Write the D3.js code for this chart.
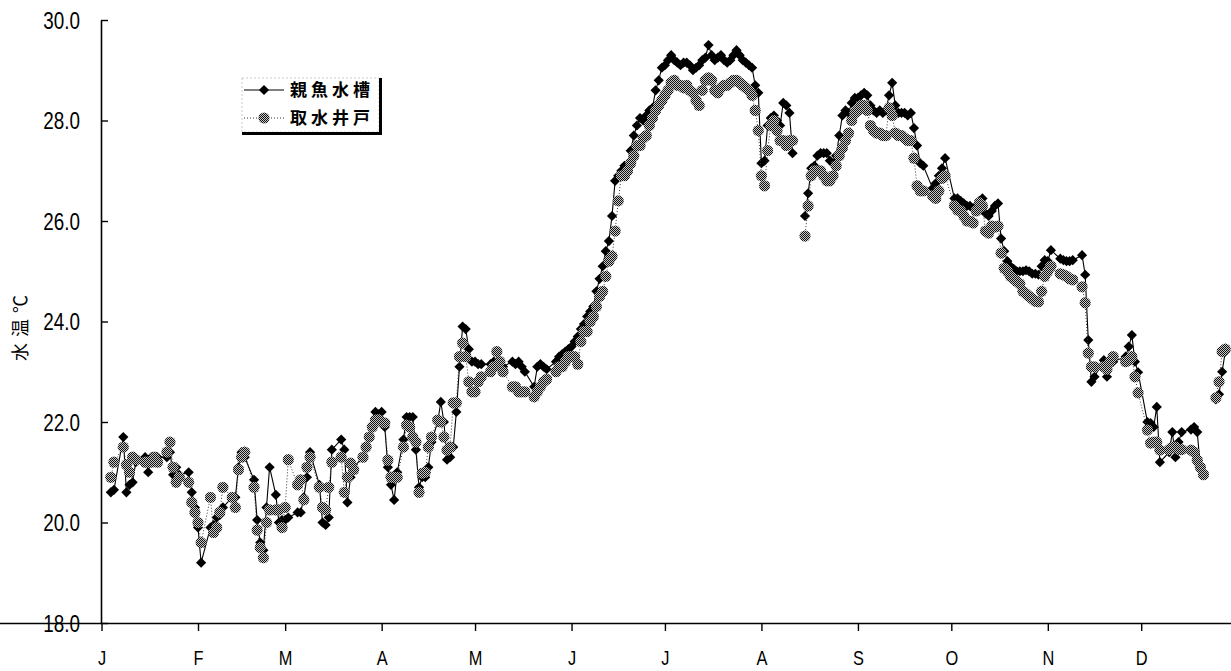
<!DOCTYPE html>
<html>
<head>
<meta charset="utf-8">
<script src="https://cdn.jsdelivr.net/npm/d3@7"></script>
<style>
  body { margin: 0; background: #fff; }
  .num { font-family: "Liberation Sans", Arial, sans-serif; }
  .jp { font-family: "Noto Sans CJK JP", sans-serif; }
</style>
</head>
<body>
<svg id="chart" width="1231" height="671"></svg>
<script>
// rows: [day of month, 親魚水槽, 取水井戸]  (null = no record, line breaks)
const jan = [[4,20.6,20.9],[5,20.65,21.2],[8,21.7,21.5],[9,20.6,21.15],[10,20.75,21.0],[11,20.8,21.3],[12,21.2,21.25],
  [15,21.3,21.2],[16,21.0,21.2],[17,21.3,21.2],[18,21.3,21.3],[19,21.3,21.2],
  [22,21.3,21.4],[23,21.4,21.6],[24,20.95,21.1],[25,21.1,20.8],[26,20.95,20.9],
  [29,21.0,20.8],[30,20.6,20.4],[31,20.3,20.2]];
const feb = [[1,19.9,20.0],[2,19.2,19.6],[5,19.9,20.5],[6,19.95,19.8],[7,20.1,19.9],[8,20.15,20.2],[9,20.3,20.7],
  [12,20.5,20.5],[13,20.5,20.3],[14,21.1,21.05],[15,21.4,21.3],[16,21.3,21.4],
  [19,20.85,20.7],[20,20.05,19.85],[21,19.6,19.5],[22,19.45,19.3],[23,20.3,20.0],
  [24,21.1,20.25],[26,20.55,20.25],[27,20.0,20.25],[28,20.05,19.9]];
const mar = [[1,20.05,20.3],[2,20.1,21.25],[5,20.2,20.75],[6,20.2,20.85],[7,20.5,20.45],[8,20.9,21.1],[9,21.4,21.3],
  [12,20.75,20.7],[13,20.0,20.3],[14,19.95,20.25],[15,20.1,20.7],[16,21.45,21.2],
  [19,21.65,21.3],[20,21.45,20.6],[21,20.4,20.9],[22,20.9,21.18],[23,21.1,21.05],
  [26,21.3,21.3],[27,21.5,21.5],[28,21.7,21.7],[29,21.9,21.9],[30,22.2,22.04],[31,22.15,22.05]];
const apr = [[1,22.2,22.0],[2,21.9,21.98],[3,21.1,21.24],[4,20.75,20.9],[5,20.45,20.9],[6,21.0,20.9],
  [8,21.65,21.5],[9,22.1,21.94],[10,22.1,21.9],[11,22.1,21.7],[12,21.45,21.6],[13,20.7,20.6],
  [14,20.9,20.98],[15,20.9,21.0],[16,21.1,21.5],[17,21.6,21.7],[19,22.0,22.04],[20,22.4,22.0],
  [21,22.0,21.7],[22,21.25,21.44],[23,21.3,21.5],[24,21.5,22.38],[25,22.2,22.38],[26,23.1,23.3],
  [27,23.9,23.57],[28,23.85,23.3],[29,23.45,22.8],[30,23.2,22.6]];
const may = [[1,23.2,22.6],[2,23.15,22.8],[3,23.15,22.9],[6,23.15,23.0],[7,23.2,23.1],[8,23.2,23.4],[9,23.15,23.2],[10,23.1,23.0],
  [13,23.2,22.7],[14,23.15,22.7],[15,23.2,22.6],[16,23.1,22.6],[17,23.0,22.6],
  [20,22.7,22.5],[21,23.1,22.6],[22,23.15,22.7],[23,23.1,22.8],[24,23.05,22.85],
  [27,23.2,23.0],[28,23.3,23.1],[29,23.35,23.1],[30,23.4,23.2],[31,23.45,23.3]];
const jun = [[1,23.5,23.3],[2,23.6,23.3],[3,23.7,23.15],[4,23.85,23.6],[5,23.95,23.8],[6,24.1,23.8],[7,24.2,24.0],
  [8,24.3,24.1],[9,24.6,24.3],[10,24.85,24.5],[11,25.1,24.6],[12,25.4,24.9],[13,25.6,25.2],[14,26.1,25.3],
  [15,26.8,25.8],[16,26.9,26.4],[17,27.0,26.9],[18,27.1,26.9],[19,27.1,27.0],[20,27.4,27.15],[21,27.7,27.3],
  [22,27.9,27.5],[23,28.05,27.5],[24,28.0,27.65],[25,28.1,27.7],[26,28.2,27.9],[27,28.25,28.05],[28,28.6,28.2],
  [29,28.8,28.3],[30,29.05,28.4]];
const jul = [[1,29.1,28.5],[2,29.2,28.6],[3,29.3,28.75],[4,29.2,28.8],[5,29.15,28.7],[6,29.1,28.7],[7,29.15,28.65],
  [8,29.15,28.7],[9,29.1,28.6],[10,29.0,28.55],[11,29.05,28.4],[12,29.1,28.3],[13,29.2,28.6],[14,29.25,28.8],
  [15,29.5,28.85],[16,29.3,28.8],[17,29.2,28.6],[18,29.25,28.55],[19,29.3,28.65],[20,29.2,28.7],[21,29.15,28.7],
  [22,29.2,28.75],[23,29.3,28.8],[24,29.4,28.8],[25,29.3,28.75],[26,29.2,28.7],[27,29.15,28.65],[28,29.1,28.6],
  [29,29.05,28.5],[30,28.7,28.2],[31,28.55,27.8]];
const aug = [[1,27.15,26.9],[2,27.2,26.7],[3,27.9,27.4],[4,28.05,27.9],[5,28.1,28.0],[6,28.0,27.8],[7,27.9,27.6],
  [8,28.35,27.6],[9,28.3,27.5],[10,28.15,27.6],[11,27.35,27.6],[12,null,null],
  [15,26.1,25.7],[16,26.55,26.3],[17,27.05,26.9],[18,27.1,27.0],[19,27.3,27.0],[20,27.35,27.0],[21,27.35,26.9],
  [22,27.35,26.8],[23,27.2,26.8],[24,27.15,26.9],[25,27.3,27.1],[26,27.7,27.3],[27,28.1,27.45],[28,28.2,27.6],
  [29,28.15,27.75],[30,28.35,28.0],[31,28.45,28.15]];
const sep = [[1,28.45,28.2],[2,28.5,28.3],[3,28.55,28.3],[4,28.5,28.2],[5,28.3,27.9],[6,28.2,27.8],[7,28.15,27.75],
  [8,28.2,27.75],[9,28.15,27.7],[10,28.2,27.7],[11,28.5,28.25],[12,28.75,28.1],[13,28.3,27.75],[14,28.15,27.7],
  [15,28.15,27.7],[16,28.15,27.65],[17,28.1,27.6],[18,28.15,27.6],[19,27.85,27.25],[20,27.5,26.7],[21,27.15,26.6],
  [22,27.1,26.6],[25,26.65,26.5],[26,26.75,26.45],[27,26.9,26.6],[28,27.05,26.85],[29,27.25,26.9]];
const oct = [[2,26.45,26.3],[3,26.45,26.22],[4,26.4,26.2],[5,26.35,26.1],[6,26.3,26.0],[7,26.3,26.0],[8,26.25,25.96],
  [9,26.3,26.2],[10,26.4,26.36],[11,26.45,26.3],[12,26.15,25.8],[13,26.1,25.76],[14,26.2,25.9],[15,26.3,25.88],
  [16,26.35,25.9],[17,25.65,25.36],[18,25.4,25.06],[19,25.2,25.0],[20,25.1,24.9],[21,25.05,24.85],[22,25.0,24.8],
  [23,25.0,24.75],[24,25.0,24.6],[25,25.02,24.55],[26,25.0,24.5],[27,24.95,24.45],[28,24.95,24.4],[29,24.93,24.39],
  [30,25.1,24.6],[31,25.22,24.9]];
const nov = [[1,25.2,25.0],[2,25.42,25.1],[5,25.25,24.95],[6,25.22,24.93],[7,25.2,24.9],[8,25.2,24.85],[9,25.22,24.83],
  [12,25.32,24.69],[13,24.93,24.37],[14,23.63,23.37],[15,22.8,23.1],[16,22.9,23.1],[19,23.23,23.1],[20,22.9,23.05],
  [21,23.2,23.2],[22,23.2,23.3],[26,23.3,23.2],[27,23.5,23.23],[28,23.73,23.3],[29,23.2,22.9],[30,22.99,22.58]];
const dec = [[3,22.0,21.84],[4,21.98,21.58],[5,21.9,21.6],[6,22.3,21.6],[7,21.2,21.44],[10,21.4,21.45],[11,21.8,21.5],
  [12,21.3,21.5],[13,21.6,21.45],[14,21.8,21.45],[17,21.85,21.44],[18,21.9,21.4],[19,21.8,21.24],[20,21.1,21.1],
  [21,21.0,20.95],[22,null,null],[25,22.45,22.48],[26,22.55,22.8],[27,23.0,23.4],[28,23.4,23.45]];

const monthRows = [jan, feb, mar, apr, may, jun, jul, aug, sep, oct, nov, dec];
const monthLabels = ["J","F","M","A","M","J","J","A","S","O","N","D"];
const yTicks = [18, 20, 22, 24, 26, 28, 30];
const seriesNames = ["親魚水槽", "取水井戸"];

const data = [];
monthRows.forEach((rows, m) => {
  for (let r of rows) data.push({ date: new Date(2001, m, r[0]), tank: r[1], well: r[2] });
});

const svg = d3.select("#chart");

// halftone fill for the second series
const pat = svg.append("defs").append("pattern")
  .attr("id", "halftone")
  .attr("patternUnits", "userSpaceOnUse")
  .attr("width", 2).attr("height", 2);
pat.append("rect").attr("width", 2).attr("height", 2).attr("fill", "#c8c8c8");
pat.append("rect").attr("width", 1).attr("height", 1).attr("fill", "#111");
pat.append("rect").attr("x", 1).attr("y", 1).attr("width", 1).attr("height", 1).attr("fill", "#111");

let x = d3.scaleTime()
  .domain([new Date(2001, 0, 1), new Date(2002, 0, 1)])
  .range([101.5, 1237.7]);

let y = d3.scaleLinear()
  .domain([18, 30])
  .range([623, 20]);

// y axis, ticks pointing into the plot
const yAxis = svg.append("g")
  .attr("transform", "translate(101,0)")
  .call(d3.axisLeft(y).tickValues(yTicks).tickSize(-7).tickSizeOuter(0)
    .tickFormat(d3.format(".1f")));
yAxis.select(".domain").attr("stroke-width", 1.6);
yAxis.selectAll(".tick line").attr("stroke-width", 1.4);
yAxis.selectAll("text")
  .attr("class", "num")
  .attr("font-size", 23)
  .attr("fill", "#000")
  .attr("x", 0)
  .attr("dy", "0.36em")
  .attr("transform", "translate(-21,0) scale(0.82,1)");

// x axis, month starts
const monthStarts = d3.range(12).map(m => new Date(2001, m, 1));
const xAxis = svg.append("g")
  .attr("transform", "translate(0,623)")
  .call(d3.axisBottom(x).tickValues(monthStarts).tickSize(8).tickSizeOuter(0)
    .tickFormat(d => monthLabels[d.getMonth()]));
xAxis.select(".domain").attr("stroke-width", 1.6).attr("d", "M-10,0.5H1240");
xAxis.selectAll(".tick line").attr("stroke-width", 1.4);
xAxis.selectAll("text")
  .attr("class", "num")
  .attr("font-size", 20)
  .attr("fill", "#000")
  .attr("y", 0)
  .attr("dy", 0)
  .attr("transform", "translate(0,42) scale(0.82,1)");

// y title
svg.append("text")
  .attr("class", "jp")
  .attr("transform", "translate(27,325) rotate(-90)")
  .attr("text-anchor", "middle")
  .attr("font-size", 18)
  .attr("letter-spacing", 6)
  .text("水温℃");

let lineTank = d3.line()
  .defined(d => d.tank != null)
  .x(d => x(d.date))
  .y(d => y(d.tank));

let lineWell = d3.line()
  .defined(d => d.well != null)
  .x(d => x(d.date))
  .y(d => y(d.well));

const diamond = d3.symbol(d3.symbolSquare, 52);

// 親魚水槽
svg.append("path")
  .datum(data)
  .attr("fill", "none")
  .attr("stroke", "#000")
  .attr("stroke-width", 1.1)
  .attr("d", lineTank);

svg.append("g")
  .selectAll("path")
  .data(data.filter(d => d.tank != null))
  .join("path")
  .attr("transform", d => `translate(${x(d.date)},${y(d.tank)}) rotate(45)`)
  .attr("d", diamond)
  .attr("fill", "#000");

// 取水井戸
svg.append("path")
  .datum(data)
  .attr("fill", "none")
  .attr("stroke", "#333")
  .attr("stroke-width", 1)
  .attr("stroke-dasharray", "1,2")
  .attr("d", lineWell);

svg.append("g")
  .selectAll("circle")
  .data(data.filter(d => d.well != null))
  .join("circle")
  .attr("cx", d => x(d.date))
  .attr("cy", d => y(d.well))
  .attr("r", 5.6)
  .attr("fill", "url(#halftone)");

// legend
const lg = svg.append("g");
lg.append("rect")
  .attr("x", 242).attr("y", 78).attr("width", 137).attr("height", 54)
  .attr("fill", "#fff").attr("stroke", "#bbb").attr("stroke-width", 0.8).attr("stroke-dasharray", "2,2");
lg.append("rect").attr("x", 379).attr("y", 78).attr("width", 3).attr("height", 57).attr("fill", "#000");
lg.append("rect").attr("x", 242).attr("y", 132).attr("width", 140).attr("height", 3).attr("fill", "#000");

lg.append("line").attr("x1", 244).attr("x2", 284).attr("y1", 90).attr("y2", 90)
  .attr("stroke", "#000").attr("stroke-width", 1.1);
lg.append("path").attr("transform", "translate(264,90) rotate(45)").attr("d", diamond).attr("fill", "#000");
lg.append("line").attr("x1", 244).attr("x2", 284).attr("y1", 118).attr("y2", 118)
  .attr("stroke", "#333").attr("stroke-dasharray", "1,2");
lg.append("circle").attr("cx", 264).attr("cy", 118).attr("r", 5.6).attr("fill", "url(#halftone)");

lg.selectAll("text.lab")
  .data(seriesNames)
  .join("text")
  .attr("class", "jp lab")
  .attr("x", 290)
  .attr("y", (d, i) => 96 + i * 28)
  .attr("font-size", 17)
  .attr("font-weight", "bold")
  .attr("letter-spacing", 4)
  .text(d => d);
</script>
</body>
</html>
